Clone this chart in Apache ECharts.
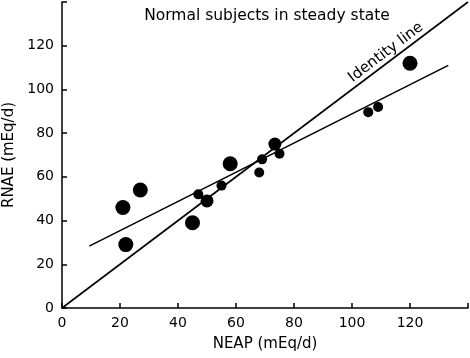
<!DOCTYPE html>
<html>
	<head>
		<meta charset="UTF-8">
		<title></title>
		<style>
			html, body { margin: 0; padding: 0; background: #fff; }
			#main { width: 470px; height: 358px; }
		</style>
	</head>
	<body>
		<div id="main"></div>
	</body>
	<script type="text/javascript" src="https://cdn.jsdelivr.net/npm/echarts@6/dist/echarts.min.js"></script>
	<script type="text/javascript">
		// NEAP / RNAE measurements (mEq/d), dot size
		var neap = [21, 27, 22, 45, 50, 47, 55, 58, 68, 69, 73.4, 75, 105.6, 109, 120];
		var rnae = [46, 54, 29, 39, 49, 52, 56, 66, 62, 68, 75, 70.6, 89.6, 92, 112];
		var dotSize = [15, 15, 15, 15, 13, 10, 10, 15, 10, 10, 13, 10, 10, 10, 15];
		// identity line and regression line end points
		var identityX = [0, 140];
		var identityY = [0, 140];
		var regX = [9.4, 133.2];
		var regY = [28.3, 111];
		var tickLabels = ['0', '20', '40', '60', '80', '100', '120', ''];

		var pts = [];
		for (var i = 0; i < neap.length; i++) {
			pts.push({ value: [neap[i], rnae[i]], symbolSize: dotSize[i] });
		}
		var idLine = [[identityX[0], identityY[0]], [identityX[1], identityY[1]]];
		var regLine = [[regX[0], regY[0]], [regX[1], regY[1]]];

		var font = 'DejaVu Sans';
		var axisCommon = {
			type: 'value',
			min: 0,
			max: 140,
			interval: 20,
			nameLocation: 'middle',
			nameTextStyle: { color: '#000', fontSize: 15, fontFamily: font },
			axisLine: { lineStyle: { color: '#000', width: 1.5 } },
			axisTick: { inside: true, length: 5, lineStyle: { color: '#000', width: 1.5 } },
			splitLine: { show: false },
			axisLabel: {
				color: '#000', fontSize: 14, fontFamily: font, margin: 8,
				formatter: function (v) { return tickLabels[v / 20]; }
			}
		};

		var myChart = echarts.init(document.getElementById('main'));
		var option = {
			animation: false,
			title: {
				text: 'Normal subjects in steady state',
				left: 262,
				top: 3,
				textAlign: 'center',
				textStyle: { color: '#000', fontSize: 15.5, fontWeight: 'normal', fontFamily: font }
			},
			grid: { left: 62, right: 2, top: 2, bottom: 50, containLabel: false, outerBoundsMode: 'none' },
			xAxis: Object.assign({}, axisCommon, { name: 'NEAP (mEq/d)', nameGap: 29 }),
			yAxis: Object.assign({}, axisCommon, { name: 'RNAE (mEq/d)', nameGap: 38 }),
			series: [{
				type: 'line',
				data: idLine,
				symbol: 'none',
				lineStyle: { color: '#000', width: 1.6 }
			}, {
				type: 'line',
				data: regLine,
				symbol: 'none',
				lineStyle: { color: '#000', width: 1.6 }
			}, {
				type: 'scatter',
				data: pts,
				itemStyle: { color: '#000', opacity: 1 }
			}]
		};
		myChart.setOption(option);

		// "Identity line" label along the identity line
		var p0 = myChart.convertToPixel('grid', [0, 0]);
		var p1 = myChart.convertToPixel('grid', [140, 140]);
		var ang = Math.atan2(p0[1] - p1[1], p1[0] - p0[0]);
		var lp = myChart.convertToPixel('grid', [111.7, 116.9]);
		myChart.setOption({
			graphic: [{
				type: 'text',
				x: lp[0],
				y: lp[1],
				rotation: ang,
				style: {
					text: 'Identity line',
					fill: '#000',
					font: '15px "DejaVu Sans"',
					textAlign: 'center',
					textVerticalAlign: 'middle'
				}
			}]
		});
	</script>
</html>
